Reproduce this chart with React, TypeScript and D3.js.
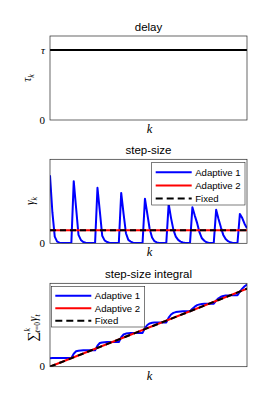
import * as d3 from 'd3';

// k runs 0..83 in all three panels
const kIndex = d3.range(84);
const kEnds = [0, 83];

// delay panel: constant tau (tau = 1)
const delayTau = [1, 1];

// step-size panel
const adaptive1Step = [
  0.81, 0.37, 0.08, 0.02, 0.008, 0.005, 0.005, 0.005, 0.005, 0.008,
  0.74, 0.42, 0.10, 0.04, 0.015, 0.006, 0.005, 0.005, 0.005, 0.008,
  0.66, 0.38, 0.09, 0.035, 0.015, 0.006, 0.005, 0.005, 0.005, 0.008,
  0.60, 0.35, 0.12, 0.04, 0.02, 0.008, 0.005, 0.005, 0.005, 0.008,
  0.53, 0.35, 0.17, 0.07, 0.025, 0.01, 0.005, 0.005, 0.005, 0.008,
  0.47, 0.30, 0.16, 0.08, 0.04, 0.02, 0.01, 0.005, 0.005, 0.008,
  0.43, 0.33, 0.24, 0.13, 0.06, 0.03, 0.012, 0.005, 0.005, 0.008,
  0.40, 0.29, 0.19, 0.10, 0.05, 0.025, 0.012, 0.005, 0.005, 0.008,
  0.35, 0.30, 0.23, 0.18,
];
const adaptive2Step = [0.155, 0.155];
const fixedStep = [0.155, 0.155];

// step-size integral panel
const adaptive1Int = [
  0.102, 0.104, 0.104, 0.104, 0.104, 0.104, 0.104, 0.104, 0.104, 0.105,
  0.156, 0.185, 0.192, 0.195, 0.196, 0.197, 0.197, 0.197, 0.197, 0.198,
  0.252, 0.284, 0.291, 0.294, 0.295, 0.296, 0.296, 0.296, 0.296, 0.297,
  0.353, 0.386, 0.397, 0.401, 0.403, 0.404, 0.404, 0.404, 0.404, 0.405,
  0.462, 0.500, 0.519, 0.526, 0.529, 0.530, 0.530, 0.530, 0.530, 0.531,
  0.588, 0.626, 0.645, 0.655, 0.660, 0.663, 0.664, 0.664, 0.664, 0.665,
  0.696, 0.720, 0.738, 0.747, 0.752, 0.754, 0.755, 0.755, 0.755, 0.756,
  0.793, 0.820, 0.838, 0.848, 0.853, 0.855, 0.856, 0.856, 0.856, 0.857,
  0.899, 0.936, 0.964, 0.986,
];
const adaptive2Int = [0, 0.935];
const fixedInt = [0, 0.935];

const seriesNames = ['Adaptive 1', 'Adaptive 2', 'Fixed'];
const seriesColors = ['#0000ff', '#ff0000', '#000000'];

const W = 274;
const H = 412;
const LEFT = 50;
const RIGHT = 247;
const SANS = '"Liberation Sans", Arial, sans-serif';
const SERIF = '"Liberation Serif", "DejaVu Serif", serif';
const AXIS = '#262626';

const x = d3.scaleLinear().domain([0, 83]).range([LEFT, RIGHT]);

function path(xs: number[], ys: number[], y: d3.ScaleLinear<number, number>) {
  const pts = xs.map((k, i) => [k, ys[i]] as [number, number]);
  return d3.line<[number, number]>()
    .x(d => x(d[0]))
    .y(d => y(d[1]))(pts) || '';
}

function Legend({ x0, y0, w, h }: { x0: number; y0: number; w: number; h: number }) {
  const rowH = h / 3.25;
  return (
    <g>
      <rect x={x0} y={y0} width={w} height={h} fill="#fff" stroke={AXIS} strokeWidth={0.6} />
      {seriesNames.map((name, i) => {
        const cy = y0 + rowH * (0.75 + i);
        return (
          <g key={name}>
            <line x1={x0 + 4} x2={x0 + 40} y1={cy} y2={cy} stroke={seriesColors[i]}
              strokeWidth={2} strokeDasharray={i === 2 ? '7,4' : undefined} />
            <text x={x0 + 43.5} y={cy + 3.4} fontFamily={SANS} fontSize={9.6} fill="#000">{name}</text>
          </g>
        );
      })}
    </g>
  );
}

function Frame({ top, bottom, title, id, children }: any) {
  return (
    <g>
      <clipPath id={id}>
        <rect x={LEFT} y={top} width={RIGHT - LEFT} height={bottom - top} />
      </clipPath>
      <rect x={LEFT} y={top} width={RIGHT - LEFT} height={bottom - top} fill="#fff" />
      <g clipPath={`url(#${id})`}>{children}</g>
      <rect x={LEFT} y={top} width={RIGHT - LEFT} height={bottom - top} fill="none" stroke={AXIS} strokeWidth={0.7} />
      <text x={(LEFT + RIGHT) / 2} y={top - 5} textAnchor="middle" fontFamily={SANS} fontSize={11.5} fill="#000">{title}</text>
      <text x={(LEFT + RIGHT) / 2 + 1} y={bottom + 13} textAnchor="middle" fontFamily={SERIF} fontStyle="italic" fontSize={12.5} fill="#000">k</text>
    </g>
  );
}

export default function App() {
  // delay
  const y1 = d3.scaleLinear().domain([0, 1.2]).range([120, 36]);
  // step-size
  const y2 = d3.scaleLinear().domain([0, 1]).range([243.3, 159.3]);
  // integral
  const y3 = d3.scaleLinear().domain([0, 1]).range([366.7, 283.3]);

  return (
    <svg width={W} height={H} style={{ position: 'absolute', left: 0, top: 0, background: '#fff' }}>
      <rect width={W} height={H} fill="#fff" />

      {/* delay */}
      <Frame top={36} bottom={120} title="delay" id="c1">
        <path d={path(kEnds, delayTau, y1)} stroke="#000" strokeWidth={2} fill="none" />
      </Frame>
      <text x={45} y={y1(1) + 3.5} textAnchor="end" fontFamily={SERIF} fontStyle="italic" fontSize={11} fill="#000">τ</text>
      <text x={45} y={y1(0) + 3.5} textAnchor="end" fontFamily={SERIF} fontSize={11} fill="#000">0</text>
      <g transform="translate(31,78) rotate(-90)">
        <text textAnchor="middle" fontFamily={SERIF} fontStyle="italic" fontSize={11.5} fill="#000">
          τ<tspan fontSize={8} dy={2.5}>k</tspan>
        </text>
      </g>

      {/* step-size */}
      <Frame top={159.3} bottom={243.3} title="step-size" id="c2">
        <path d={path(kIndex, adaptive1Step, y2)} stroke={seriesColors[0]} strokeWidth={2} fill="none" strokeLinejoin="round" />
        <path d={path(kEnds, adaptive2Step, y2)} stroke={seriesColors[1]} strokeWidth={2} fill="none" />
        <path d={path(kEnds, fixedStep, y2)} stroke={seriesColors[2]} strokeWidth={2} fill="none" strokeDasharray="6,4" />
      </Frame>
      <Legend x0={151.7} y0={162.5} w={93.3} h={42.5} />
      <text x={45} y={y2(0) + 3.5} textAnchor="end" fontFamily={SERIF} fontSize={11} fill="#000">0</text>
      <g transform="translate(34,201) rotate(-90)">
        <text textAnchor="middle" fontFamily={SERIF} fontStyle="italic" fontSize={11.5} fill="#000">
          γ<tspan fontSize={8} dy={2.5}>k</tspan>
        </text>
      </g>

      {/* step-size integral */}
      <Frame top={283.3} bottom={366.7} title="step-size integral" id="c3">
        <path d={path(kIndex, adaptive1Int, y3)} stroke={seriesColors[0]} strokeWidth={2} fill="none" strokeLinejoin="round" />
        <path d={path(kEnds, adaptive2Int, y3)} stroke={seriesColors[1]} strokeWidth={2} fill="none" />
        <path d={path(kEnds, fixedInt, y3)} stroke={seriesColors[2]} strokeWidth={2} fill="none" strokeDasharray="6,4" />
      </Frame>
      <Legend x0={51.3} y0={286.5} w={93.4} h={40.5} />
      <text x={45} y={y3(0) + 3.5} textAnchor="end" fontFamily={SERIF} fontSize={11} fill="#000">0</text>
      <g transform="translate(37,328) rotate(-90)">
        <text textAnchor="middle" fontFamily={SERIF} fill="#000">
          <tspan fontSize={14}>∑</tspan>
          <tspan fontSize={7.5} fontStyle="italic" dy={-7}>k</tspan>
          <tspan fontSize={7.5} dx={-4} dy={10} fontStyle="italic">t</tspan>
          <tspan fontSize={7.5}>=0</tspan>
          <tspan fontSize={11.5} fontStyle="italic" dx={1} dy={-3}>γ</tspan>
          <tspan fontSize={7.5} fontStyle="italic" dy={2.5}>t</tspan>
        </text>
      </g>
    </svg>
  );
}
